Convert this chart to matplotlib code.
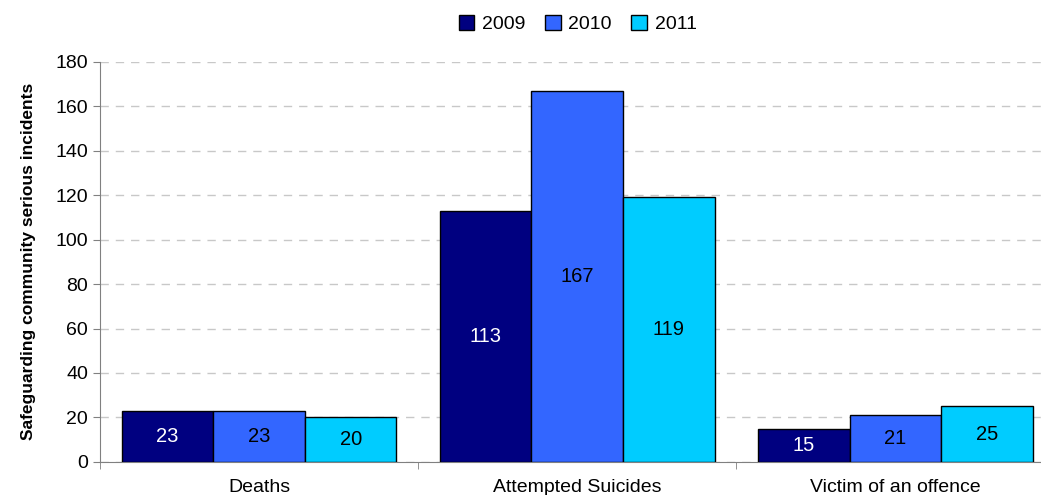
import matplotlib.pyplot as plt
import numpy as np

plt.rcParams['font.family'] = ['Liberation Sans', 'DejaVu Sans']

categories = ["Deaths", "Attempted Suicides", "Victim of an offence"]
years = ["2009", "2010", "2011"]
values_2009 = [23, 113, 15]
values_2010 = [23, 167, 21]
values_2011 = [20, 119, 25]
colors = ["#000080", "#3366FF", "#00CCFF"]
label_colors = ["white", "black", "black"]

fig = plt.figure(figsize=(10.41, 4.95), dpi=100)
ax = fig.add_axes([0.096, 0.067, 0.917, 0.808])

x = np.arange(len(categories))
width = 0.288
series = [values_2009, values_2010, values_2011]
for i, vals in enumerate(series):
    bars = ax.bar(x + (i - 1) * width, vals, width, color=colors[i],
                  edgecolor="black", linewidth=1, label=years[i], zorder=3)
    ax.bar_label(bars, labels=[str(v) for v in vals], label_type="center",
                 color=label_colors[i], fontsize=14.5)

ax.set_xlim(-0.5, 2.5)
ax.set_ylim(0, 180)
ax.set_yticks(range(0, 181, 20))
ax.set_xticks(x)
ax.set_xticklabels(categories, fontsize=14)
ax.set_xticks([-0.5, 0.5, 1.5, 2.5], minor=True)
ax.tick_params(axis="x", which="major", length=0, pad=12)
ax.tick_params(axis="x", which="minor", length=5, color="#808080")
ax.tick_params(axis="y", labelsize=14, length=5, color="#808080")

ax.grid(axis="y", linestyle=(0, (6, 5)), color="#C8C8C8", linewidth=1, zorder=0)
for s in ["top", "right"]:
    ax.spines[s].set_visible(False)
ax.spines["left"].set_color("#808080")
ax.spines["bottom"].set_color("#808080")

ax.set_ylabel("Safeguarding community serious incidents", fontsize=12.5,
              fontweight="bold", family=["Liberation Sans Narrow", "Liberation Sans"],
              labelpad=14)

fig.legend(loc="upper center", bbox_to_anchor=(0.555, 1.005), ncol=3, frameon=False,
           fontsize=14, handlelength=0.8, handleheight=0.8, handletextpad=0.4,
           columnspacing=1.0)

fig.savefig("out.png", dpi=100)
